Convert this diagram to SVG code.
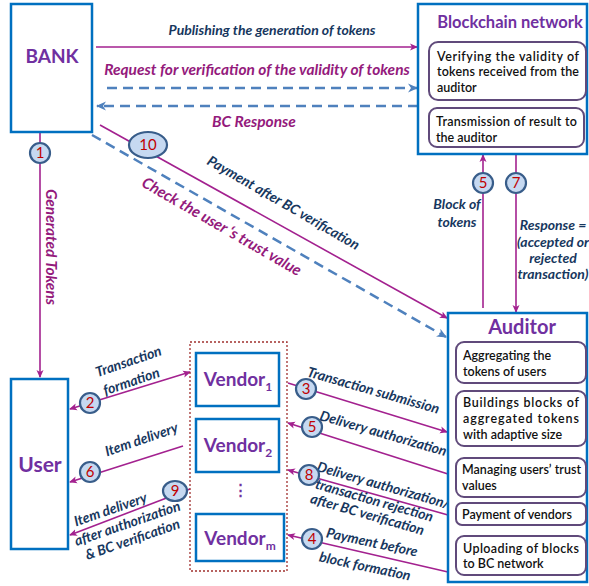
<svg xmlns="http://www.w3.org/2000/svg" width="589" height="586" viewBox="0 0 589 586">
<defs>
<marker id="am" markerWidth="8" markerHeight="8" refX="7" refY="4" orient="auto" markerUnits="userSpaceOnUse"><path d="M0,0.5 L8,4 L0,7.5 L2,4 z" fill="#a3218f"/></marker>
<marker id="ams" markerWidth="8" markerHeight="8" refX="1" refY="4" orient="auto" markerUnits="userSpaceOnUse"><path d="M8,0.5 L0,4 L8,7.5 L6,4 z" fill="#a3218f"/></marker>
<marker id="ab" markerWidth="10" markerHeight="10" refX="9" refY="5" orient="auto" markerUnits="userSpaceOnUse"><path d="M0,0.5 L10,5 L0,9.5 L3,5 z" fill="#4f81bd"/></marker>
</defs>
<style>
.box{fill:#fff;stroke:#0070c0;stroke-width:2.5}
.sub{fill:#fff;stroke:#604a7b;stroke-width:2}
.ttl{font-family:Lato,"Open Sans",sans-serif;font-weight:bold;fill:#7030a0;text-anchor:middle}
.in{font-family:Lato,"Open Sans",sans-serif;font-size:12.5px;fill:#111;font-weight:600}
.lbl{font-family:Lato,"Open Sans",sans-serif;font-size:14px;font-style:italic;font-weight:bold;fill:#17375e;text-anchor:middle}
.lblp{font-family:Lato,"Open Sans",sans-serif;font-size:15.5px;font-style:italic;font-weight:bold;fill:#941a7c;text-anchor:middle}
.ln{stroke:#a3218f;stroke-width:1.6;fill:none}
.dl{stroke:#4f81bd;stroke-width:2.5;stroke-dasharray:10,6;fill:none}
.num circle,.num ellipse{fill:#c6d9f1;stroke:#385d8a;stroke-width:2.2}
.num text{font-family:Lato,"Open Sans",sans-serif;font-size:15px;fill:#c00000;text-anchor:middle}
</style>

<g id="connectors">
<line class="ln" x1="96" y1="47" x2="417" y2="47" stroke-width="2.2" marker-end="url(#am)"/>
<line class="dl" x1="107" y1="88" x2="417" y2="88" marker-end="url(#ab)"/>
<line class="dl" x1="418" y1="106" x2="97" y2="106" marker-end="url(#ab)"/>
<line class="ln" x1="100" y1="125" x2="447" y2="318" marker-end="url(#am)"/>
<line class="dl" x1="92" y1="135" x2="446" y2="337" marker-end="url(#ab)"/>
<line class="ln" x1="40" y1="132" x2="40" y2="377" marker-end="url(#am)"/>
<line class="ln" x1="483" y1="308" x2="483" y2="155" marker-end="url(#am)"/>
<line class="ln" x1="516" y1="155" x2="516" y2="312" marker-end="url(#am)"/>
<line class="ln" x1="70" y1="409" x2="190" y2="372" marker-start="url(#ams)" marker-end="url(#am)"/>
<line class="ln" x1="183" y1="446" x2="70" y2="482" marker-end="url(#am)"/>
<line class="ln" x1="190" y1="489" x2="70" y2="535" marker-end="url(#am)"/>
<line class="ln" x1="288" y1="383" x2="447" y2="432" marker-end="url(#am)"/>
<line class="ln" x1="448" y1="474" x2="288" y2="423" marker-end="url(#am)"/>
<line class="ln" x1="448" y1="515" x2="288" y2="470" marker-end="url(#am)"/>
<line class="ln" x1="448" y1="572" x2="288" y2="535" marker-end="url(#am)"/>
</g>

<g id="labels">
<text class="lbl" x="272" y="35" font-size="14.5">Publishing  the generation  of tokens</text>
<text class="lblp" x="257" y="75" font-size="16">Request  for verification of the validity of tokens</text>
<text class="lblp" x="254" y="127">BC Response</text>
<text class="lbl" transform="translate(281,207) rotate(30)">Payment after BC verification</text>
<text class="lblp" transform="translate(219,231) rotate(30)">Check the user ‘s trust value</text>
<text class="lblp" transform="translate(46,247) rotate(90)" font-size="14.5">Generated Tokens</text>
<text class="lbl" x="457" y="209">Block of</text>
<text class="lbl" x="457" y="227">tokens</text>
<text class="lbl" x="553" y="230" font-size="13.5">Response =</text>
<text class="lbl" x="553" y="247" font-size="13.5">(accepted or</text>
<text class="lbl" x="553" y="263" font-size="13.5">rejected</text>
<text class="lbl" x="553" y="279" font-size="13.5">transaction)</text>
<text class="lbl" transform="translate(130,366) rotate(-19)">Transaction</text>
<text class="lbl" transform="translate(133,386) rotate(-19)">formation</text>
<text class="lbl" transform="translate(143,444) rotate(-19)">Item delivery</text>
<text class="lbl" transform="translate(112,514) rotate(-19)" font-size="13.5">Item delivery</text>
<text class="lbl" transform="translate(129,528) rotate(-19)" font-size="13.5">after authorization</text>
<text class="lbl" transform="translate(134,544) rotate(-19)" font-size="13.5">&amp; BC verification</text>
<text class="lbl" transform="translate(372,395) rotate(16)">Transaction  submission</text>
<text class="lbl" transform="translate(382,438) rotate(16)">Delivery authorization</text>
<text class="lbl" transform="translate(382,490) rotate(16)" font-size="13.5">Delivery authorization/</text>
<text class="lbl" transform="translate(373,505) rotate(16)" font-size="13.5">transaction rejection</text>
<text class="lbl" transform="translate(366,519) rotate(16)" font-size="13.5">after BC verification</text>
<text class="lbl" transform="translate(371,547) rotate(12)">Payment before</text>
<text class="lbl" transform="translate(364,571) rotate(12)">block formation</text>
</g>

<g id="markers">
<g class="num"><ellipse cx="148" cy="145" rx="19" ry="13"/><text x="148" y="150">10</text></g>
<g class="num"><circle cx="40" cy="153" r="10"/><text x="40" y="158">1</text></g>
<g class="num"><circle cx="90" cy="403" r="10"/><text x="90" y="408">2</text></g>
<g class="num"><circle cx="90" cy="472" r="10"/><text x="90" y="477">6</text></g>
<g class="num"><ellipse cx="175" cy="491" rx="12" ry="10"/><text x="175" y="496">9</text></g>
<g class="num"><circle cx="306" cy="389" r="10"/><text x="306" y="394">3</text></g>
<g class="num"><circle cx="312" cy="427" r="10"/><text x="312" y="432">5</text></g>
<g class="num"><circle cx="309" cy="475" r="10"/><text x="309" y="480">8</text></g>
<g class="num"><circle cx="312" cy="539" r="10"/><text x="312" y="544">4</text></g>
<g class="num"><circle cx="483" cy="183" r="10"/><text x="483" y="188">5</text></g>
<g class="num"><circle cx="516" cy="183" r="10"/><text x="516" y="188">7</text></g>
</g>

<g id="bank">
<rect class="box" x="11" y="4" width="81" height="128"/>
<text class="ttl" x="52" y="63" font-size="19">BANK</text>
</g>

<g id="blockchain">
<rect class="box" x="418" y="4" width="169" height="150"/>
<text class="ttl" x="510" y="28" font-size="16.5">Blockchain network</text>
<rect class="sub" x="429" y="42" width="157" height="58" rx="9"/>
<text class="in" x="437" y="61" textLength="142" lengthAdjust="spacing">Verifying the validity of</text>
<text class="in" x="437" y="76" textLength="142" lengthAdjust="spacing">tokens received from the</text>
<text class="in" x="437" y="92">auditor</text>
<rect class="sub" x="429" y="108" width="155" height="39" rx="8"/>
<text class="in" x="436" y="126" textLength="141" lengthAdjust="spacing">Transmission of result to</text>
<text class="in" x="436" y="142">the auditor</text>
</g>

<g id="auditor">
<rect class="box" x="448" y="313" width="139" height="269"/>
<text class="ttl" x="522" y="334" font-size="20">Auditor</text>
<rect class="sub" x="456" y="342" width="130" height="41" rx="8"/>
<text class="in" x="463" y="360">Aggregating the</text>
<text class="in" x="463" y="376">tokens of users</text>
<rect class="sub" x="456" y="391" width="130" height="55" rx="8"/>
<text class="in" x="463" y="407" textLength="116" lengthAdjust="spacing">Buildings blocks of</text>
<text class="in" x="463" y="423" textLength="116" lengthAdjust="spacing">aggregated tokens</text>
<text class="in" x="463" y="439">with adaptive size</text>
<rect class="sub" x="456" y="458" width="130" height="39" rx="8"/>
<text class="in" x="462" y="474" textLength="119" lengthAdjust="spacing">Managing users’ trust</text>
<text class="in" x="462" y="490">values</text>
<rect class="sub" x="456" y="503" width="130" height="22" rx="6"/>
<text class="in" x="462" y="519">Payment of vendors</text>
<rect class="sub" x="456" y="536" width="130" height="39" rx="8"/>
<text class="in" x="463" y="553" textLength="116" lengthAdjust="spacing">Uploading of blocks</text>
<text class="in" x="463" y="568">to BC network</text>
</g>

<g id="user">
<rect class="box" x="11" y="379" width="57" height="170"/>
<text class="ttl" x="40" y="472" font-size="21">User</text>
</g>

<g id="vendors">
<rect x="190" y="342" width="97" height="229" fill="none" stroke="#a0302e" stroke-width="1.3" stroke-dasharray="2,2"/>
<g id="vendor1">
<rect class="box" x="196" y="353" width="83" height="53"/>
<text class="ttl" x="238" y="386" font-size="19">Vendor<tspan font-size="12" dy="5">1</tspan></text>
</g>
<g id="vendor2">
<rect class="box" x="196" y="419" width="83" height="53"/>
<text class="ttl" x="238" y="452" font-size="19">Vendor<tspan font-size="12" dy="5">2</tspan></text>
</g>
<text class="ttl" x="240" y="495" font-size="15">⋮</text>
<g id="vendorm">
<rect class="box" x="196" y="514" width="88" height="47"/>
<text class="ttl" x="240" y="545" font-size="19">Vendor<tspan font-size="12" dy="5">m</tspan></text>
</g>
</g>
</svg>
